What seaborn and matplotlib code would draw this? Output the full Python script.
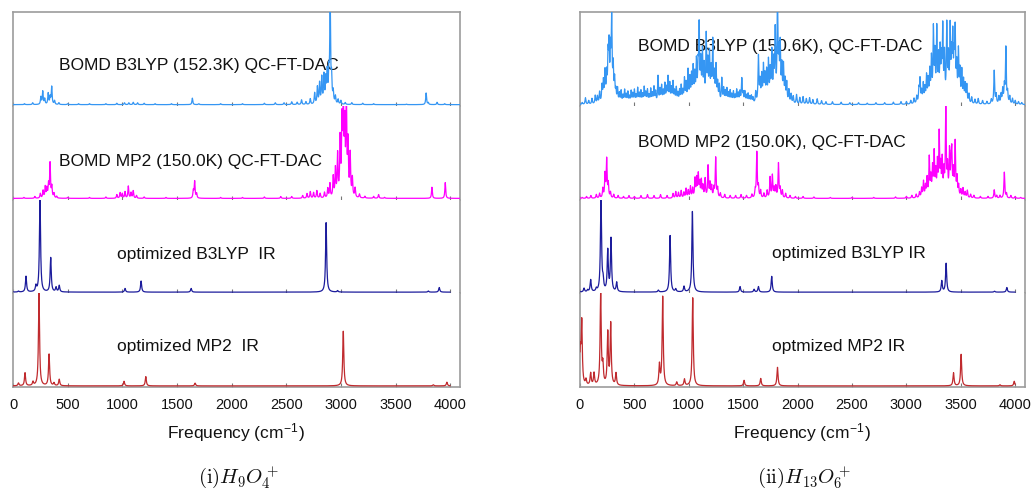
import numpy as np
import matplotlib
matplotlib.use("Agg")
import matplotlib.pyplot as plt
import seaborn as sns

# ---------------- data (peak positions in cm^-1, relative intensities) ----------------
TICKS = [0, 500, 1000, 1500, 2000, 2500, 3000, 3500, 4000]

# (i) H9O4+
L1_FREQ = [105, 180, 255, 272, 290, 322, 340, 354, 380, 420, 500, 600, 700, 850, 950, 1020, 1060, 1100,
           1140, 1200, 1300, 1450, 1641, 1700, 1900, 2100, 2300, 2400, 2480, 2550, 2600, 2640, 2680, 2720,
           2760, 2785, 2805, 2825, 2845, 2862, 2875, 2890, 2902, 2915, 2930, 2950, 2975, 3000, 3040, 3100,
           3200, 3300, 3600, 3780, 3800, 3880, 3950]
L1_INT = [0.01, 0.02, 0.08, 0.14, 0.06, 0.12, 0.08, 0.19, 0.04, 0.02, 0.01, 0.01, 0.01, 0.01, 0.015, 0.02, 0.02,
          0.025, 0.02, 0.015, 0.01, 0.01, 0.07, 0.01, 0.01, 0.01, 0.015, 0.02, 0.02, 0.03, 0.025, 0.05, 0.03,
          0.06, 0.12, 0.18, 0.22, 0.28, 0.30, 0.25, 0.32, 0.28, 1.10, 0.25, 0.12, 0.08, 0.05, 0.04, 0.02, 0.02,
          0.015, 0.01, 0.005, 0.125, 0.02, 0.025, 0.01]

L2_FREQ = [100, 200, 250, 275, 295, 310, 325, 339, 355, 375, 400, 500, 700, 850, 950, 980, 1000, 1025, 1055,
           1080, 1100, 1130, 1200, 1400, 1650, 1662, 1680, 1900, 2100, 2300, 2450, 2550, 2650, 2690, 2720,
           2750, 2780, 2810, 2850, 2880, 2900, 2930, 2950, 2970, 2993, 3010, 3022, 3035, 3050, 3065, 3085,
           3105, 3130, 3170, 3220, 3300, 3345, 3400, 3833, 3955]
L2_INT = [0.01, 0.02, 0.05, 0.08, 0.12, 0.10, 0.14, 0.37, 0.12, 0.05, 0.02, 0.01, 0.01, 0.015, 0.04, 0.06, 0.05,
          0.07, 0.13, 0.06, 0.08, 0.03, 0.015, 0.01, 0.08, 0.18, 0.05, 0.01, 0.01, 0.015, 0.02, 0.02, 0.03,
          0.05, 0.07, 0.06, 0.08, 0.05, 0.06, 0.10, 0.15, 0.22, 0.30, 0.45, 0.60, 0.75, 1.05, 0.70, 1.05, 0.55,
          0.45, 0.20, 0.10, 0.04, 0.02, 0.02, 0.04, 0.01, 0.12, 0.17]

L3_FREQ = [50, 119, 210, 247, 345, 394, 423, 1025, 1172, 1630, 2865, 2970, 3800, 3900]
L3_INT = [0.01, 0.17, 0.06, 1.05, 0.37, 0.05, 0.07, 0.04, 0.12, 0.04, 0.75, 0.015, 0.012, 0.05]

L4_FREQ = [50, 110, 183, 238, 330, 375, 423, 1016, 1215, 1666, 3022, 3845, 3970]
L4_INT = [0.03, 0.14, 0.04, 1.0, 0.34, 0.03, 0.07, 0.05, 0.10, 0.03, 0.59, 0.012, 0.04]

# (ii) H13O6+
R1_FREQ = [20, 50, 80, 110, 140, 160, 180, 202, 215, 230, 245, 258, 267, 280, 291, 305, 318, 330,
           345, 362, 378, 395, 410, 425, 440, 455, 470, 485, 500, 515, 530, 545, 560, 575, 590, 605, 620,
           635, 650, 665, 680, 695, 717, 735, 750, 765, 780, 795, 809, 825, 840, 855, 870, 885, 900, 915,
           930, 945, 960, 975, 993, 1010, 1025,
           1040, 1055, 1070, 1085, 1095, 1110, 1125, 1140, 1160, 1175, 1190, 1205, 1220, 1235, 1250, 1265,
           1280, 1303, 1320, 1335, 1350, 1365, 1380, 1395, 1410, 1425, 1440, 1455, 1470, 1487, 1500, 1515,
           1530, 1545, 1560, 1575, 1590,
           1615, 1640, 1655, 1670, 1686, 1700, 1715, 1732, 1748, 1763, 1780, 1794, 1815, 1828, 1840, 1855,
           1870, 1885, 1900, 1920, 1940, 1960, 1990, 2020, 2050, 2080, 2110, 2140, 2180, 2220, 2260, 2320,
           2400, 2480, 2560, 2640, 2720, 2800, 2880, 2950, 3000, 3040, 3070, 3095,
           3115, 3125, 3140, 3155, 3170, 3185, 3200, 3215, 3230, 3248, 3262, 3279, 3295, 3310, 3322, 3334,
           3350, 3371, 3386, 3402, 3415, 3426, 3438, 3448, 3462, 3478, 3492, 3509, 3525, 3540, 3555, 3575,
           3600, 3630, 3660, 3700, 3740, 3780, 3807, 3825, 3850, 3870, 3885, 3900, 3914, 3930, 3950, 3975,
           4000, 4030, 4060]
R1_INT = [0.02, 0.07, 0.04, 0.06, 0.09, 0.08, 0.12, 0.18, 0.22, 0.32, 0.28, 0.46, 0.55, 0.50, 0.86, 0.36, 0.23,
          0.12,
          0.15, 0.10, 0.13, 0.08, 0.14, 0.09, 0.12, 0.07, 0.13, 0.10, 0.14, 0.08, 0.16, 0.10, 0.13, 0.09, 0.17,
          0.11, 0.14, 0.08, 0.15, 0.10, 0.17, 0.12, 0.29, 0.14, 0.18, 0.12, 0.20, 0.15, 0.27, 0.20, 0.15, 0.22,
          0.12, 0.16, 0.10, 0.13, 0.18, 0.12, 0.25, 0.20, 0.34, 0.25, 0.28,
          0.36, 0.28, 0.42, 0.33, 0.78, 0.40, 0.52, 0.36, 0.70, 0.40, 0.50, 0.32, 0.64, 0.28, 0.38, 0.20,
          0.18, 0.26, 0.15, 0.12, 0.15, 0.10, 0.13, 0.09, 0.12, 0.08, 0.14, 0.10, 0.12, 0.26, 0.10, 0.12,
          0.08, 0.10, 0.07, 0.08, 0.06,
          0.12, 0.50, 0.22, 0.28, 0.38, 0.27, 0.32, 0.43, 0.32, 0.52, 0.40, 0.74, 1.10, 0.45, 0.58, 0.36,
          0.38, 0.23, 0.21, 0.14, 0.10, 0.08, 0.10, 0.07, 0.08, 0.06, 0.07, 0.05, 0.06, 0.04, 0.03, 0.03,
          0.025, 0.02, 0.02, 0.015, 0.02, 0.02, 0.025, 0.03, 0.03, 0.04, 0.06, 0.08,
          0.15, 0.25, 0.12, 0.20, 0.15, 0.28, 0.23, 0.32, 0.45, 0.76, 0.48, 0.76, 0.44, 0.52, 0.40, 0.76,
          0.48, 0.80, 0.44, 0.76, 0.44, 0.65, 0.40, 0.72, 0.36, 0.53, 0.32, 0.33, 0.23, 0.19, 0.19, 0.10,
          0.07, 0.05, 0.06, 0.04, 0.03, 0.05, 0.36, 0.10, 0.08, 0.10, 0.15, 0.18, 0.60, 0.12, 0.08, 0.06,
          0.04, 0.03, 0.02]

R2_FREQ = [20, 60, 100, 150, 180, 210, 230, 245, 260, 280, 310, 350, 400, 450, 500, 560, 620, 680, 740, 800,
           855, 880, 905, 930, 955, 975, 995, 1015, 1035, 1057, 1072, 1087, 1100, 1115, 1130, 1150, 1177,
           1195, 1210, 1230, 1247, 1265, 1290, 1330, 1380, 1430, 1480, 1530, 1580, 1610, 1625, 1640, 1660,
           1690, 1720, 1747, 1768, 1785, 1800, 1824, 1840, 1860, 1890, 1930, 1980, 2050, 2150, 2300, 2500,
           2700, 2900, 3000, 3050, 3090, 3120, 3140, 3157, 3175, 3190, 3210, 3225, 3240, 3255, 3270, 3285,
           3301, 3315, 3329, 3345, 3362, 3378, 3396, 3410, 3417, 3432, 3448, 3465, 3480, 3500, 3520, 3540,
           3560, 3590, 3620, 3680, 3750, 3807, 3830, 3860, 3900, 3920, 3960, 4000, 4050]
R2_INT = [0.01, 0.02, 0.03, 0.04, 0.05, 0.10, 0.25, 0.41, 0.15, 0.06, 0.04, 0.03, 0.02, 0.03, 0.02, 0.03, 0.04,
          0.03, 0.04, 0.03, 0.05, 0.07, 0.06, 0.08, 0.06, 0.10, 0.08, 0.12, 0.10, 0.20, 0.20, 0.24, 0.15, 0.18,
          0.12, 0.20, 0.34, 0.15, 0.12, 0.10, 0.43, 0.10, 0.05, 0.04, 0.03, 0.03, 0.04, 0.03, 0.04, 0.08, 0.49,
          0.12, 0.08, 0.05, 0.08, 0.22, 0.24, 0.10, 0.12, 0.37, 0.10, 0.08, 0.05, 0.03, 0.02, 0.02, 0.015,
          0.01, 0.01, 0.01, 0.015, 0.02, 0.03, 0.04, 0.06, 0.10, 0.17, 0.12, 0.20, 0.42, 0.20, 0.30, 0.46,
          0.25, 0.35, 0.66, 0.30, 0.38, 0.25, 0.95, 0.30, 0.47, 0.30, 0.43, 0.25, 0.58, 0.20, 0.12, 0.08,
          0.10, 0.06, 0.08, 0.04, 0.03, 0.02, 0.02, 0.09, 0.03, 0.03, 0.28, 0.05, 0.03, 0.02, 0.01]

R3_FREQ = [37, 70, 98, 150, 193, 212, 255, 285, 337, 720, 828, 880, 956, 1033, 1471, 1600, 1640, 1762,
           3325, 3365, 3810, 3923]
R3_INT = [0.04, 0.02, 0.13, 0.03, 1.05, 0.10, 0.44, 0.57, 0.10, 0.02, 0.61, 0.03, 0.06, 0.87, 0.06, 0.03,
          0.06, 0.17, 0.12, 0.31, 0.01, 0.05]

R4_FREQ = [3, 16, 55, 98, 129, 190, 210, 255, 282, 331, 730, 760, 889, 960, 1036, 1508, 1661, 1815, 3433,
           3503, 3860, 3991]
R4_INT = [0.35, 0.67, 0.06, 0.13, 0.13, 1.0, 0.20, 0.56, 0.66, 0.13, 0.22, 0.96, 0.04, 0.07, 0.95, 0.06,
          0.08, 0.20, 0.14, 0.34, 0.012, 0.05]

LEFT_LABELS = ["BOMD B3LYP (152.3K) QC-FT-DAC", "BOMD MP2 (150.0K) QC-FT-DAC",
               "optimized B3LYP  IR", "optimized MP2  IR"]
RIGHT_LABELS = ["BOMD B3LYP (150.6K), QC-FT-DAC", "BOMD MP2 (150.0K), QC-FT-DAC",
                "optimized B3LYP IR", "optmized MP2 IR"]
CAPTIONS = [r"$\mathrm{(i)}H_9O_4^+$", r"$\mathrm{(ii)}H_{13}O_6^+$"]

COLORS = ["#3596f3", "#ff00ff", "#1c1c9c", "#c02a2e"]

# ---------------- helpers ----------------
def spectrum(freqs, ints, width, xmax):
    x = np.arange(0, xmax + 1, 1.0)
    y = np.zeros_like(x)
    hw = width / 2.0
    for f, h in zip(freqs, ints):
        y += h * hw ** 2 / ((x - f) ** 2 + hw ** 2)
    return x, y


sns.set_theme(style="white")
plt.rcParams["font.family"] = ["Liberation Sans", "DejaVu Sans"]
plt.rcParams["mathtext.fontset"] = "cm"

W, H = 1034, 493
fig = plt.figure(figsize=(W / 100, H / 100), dpi=100)

XMAX = 4090
SPINE = "#9c9c9c"

panels = [
    dict(left=13, right=460, data=[(L1_FREQ, L1_INT, 9, XMAX), (L2_FREQ, L2_INT, 9, XMAX),
                                   (L3_FREQ, L3_INT, 12, 4000), (L4_FREQ, L4_INT, 12, 4000)],
         labels=LEFT_LABELS, lx=[421, 421, 952, 952], ly=[0.43, 0.41, 0.41, 0.43], cap=CAPTIONS[0]),
    dict(left=580, right=1025, data=[(R1_FREQ, R1_INT, 9, XMAX), (R2_FREQ, R2_INT, 9, XMAX),
                                     (R3_FREQ, R3_INT, 12, 4000), (R4_FREQ, R4_INT, 12, 4000)],
         labels=RIGHT_LABELS, lx=[536, 536, 1768, 1768], ly=[0.63, 0.61, 0.42, 0.43], cap=CAPTIONS[1]),
]

top_px, bot_px = 12, 387
for p in panels:
    gs = fig.add_gridspec(4, 1, left=p["left"] / W, right=p["right"] / W,
                          top=1 - top_px / H, bottom=1 - bot_px / H, hspace=0)
    for i in range(4):
        ax = fig.add_subplot(gs[i, 0])
        fr, it, w, xm = p["data"][i]
        x, y = spectrum(fr, it, w, xm)
        sns.lineplot(x=x, y=y, ax=ax, color=COLORS[i], linewidth=0.9, zorder=3)
        ax.set_xlim(0, XMAX)
        ax.set_ylim(-0.012, 1.0)
        ax.set_yticks([])
        ax.set_xticks(TICKS)
        ax.set_xlabel("")
        ax.set_ylabel("")
        ax.tick_params(axis="x", direction="in", length=3, width=0.8, color="#777777",
                       labelbottom=(i == 3), labelsize=10.5, pad=8, bottom=True)
        for s in ["left", "right", "top", "bottom"]:
            ax.spines[s].set_color(SPINE)
            ax.spines[s].set_linewidth(1.2)
        ax.spines["top"].set_visible(i == 0)
        ax.spines["bottom"].set_visible(i == 3)
        ax.text(p["lx"][i], p["ly"][i], p["labels"][i], transform=ax.get_xaxis_transform(),
                ha="left", va="center", fontsize=12.5, color="#111111", zorder=2)
        if i == 3:
            ax.set_xlabel(r"Frequency (cm$^{\mathregular{-1}}$)", fontsize=12.5, labelpad=7,
                          color="#111111")
            for lab in ax.get_xticklabels():
                lab.set_color("#111111")
    cx = (p["left"] + p["right"]) / 2 / W
    fig.text(cx + 2 / W, 1 - 478 / H, p["cap"], ha="center", va="center", fontsize=15, color="#111111")

fig.savefig("out.png", dpi=100)
